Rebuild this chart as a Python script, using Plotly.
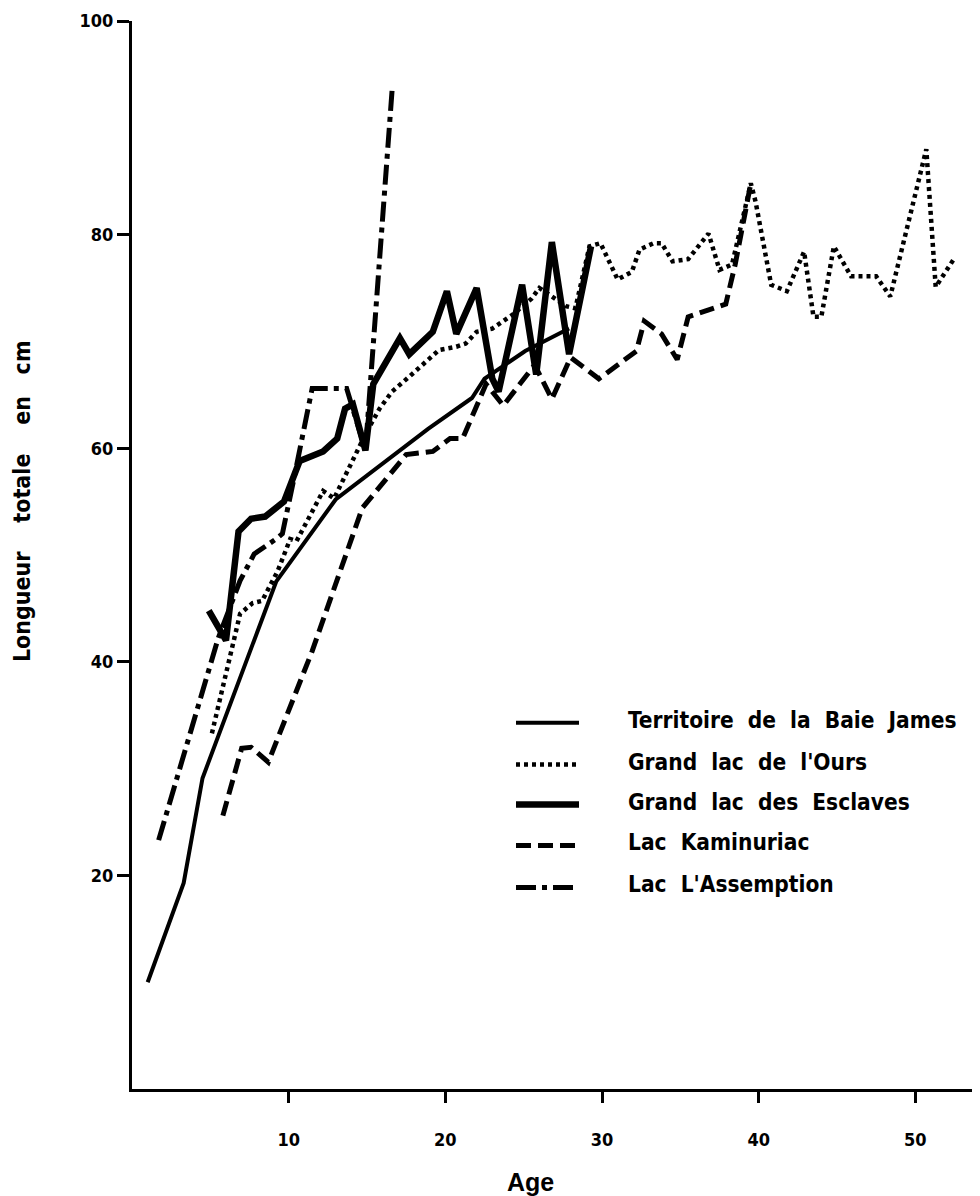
import plotly.graph_objects as go

# ---------------- data ----------------
baie_james_age = [1.0, 3.3, 4.5, 9.2, 13.0, 18.9, 21.7, 22.5, 25.1, 27.9]
baie_james_len = [10.0, 19.3, 29.1, 47.5, 55.2, 61.8, 64.7, 66.5, 69.1, 71.2]

ours_age = [5.1, 6.9, 7.7, 8.3, 9.3, 10.1, 10.5, 12.2, 12.9, 15.0, 15.8, 16.6, 17.7,
            18.8, 19.6, 20.7, 21.3, 22.0, 23.0, 24.3, 25.5, 26.0, 27.7, 28.3, 29.2,
            29.9, 31.0, 31.9, 32.4, 33.3, 33.8, 34.5, 35.5, 36.8, 37.5, 38.3, 39.5,
            39.8, 40.8, 41.8, 42.9, 43.5, 44.0, 44.8, 45.9, 47.5, 48.4, 50.7, 51.3, 52.5]
ours_len = [33.3, 44.5, 45.5, 45.7, 48.5, 51.5, 51.3, 56.0, 55.3, 61.6, 63.7, 65.3, 66.7,
            68.1, 69.2, 69.5, 69.8, 70.9, 71.2, 72.5, 74.0, 75.0, 73.3, 73.1, 78.9,
            79.2, 75.8, 76.5, 78.6, 79.2, 79.2, 77.5, 77.7, 80.1, 76.7, 77.2, 84.8,
            83.1, 75.3, 74.7, 78.4, 72.3, 72.3, 78.9, 76.1, 76.1, 74.2, 88.0, 75.1, 77.8]

esclaves_age = [4.9, 6.0, 6.8, 7.6, 8.5, 9.7, 10.7, 12.2, 13.1, 13.6, 14.1, 14.9, 15.4,
                17.1, 17.7, 19.2, 20.1, 20.7, 22.0, 23.0, 23.4, 24.9, 25.8, 26.8, 27.9, 29.3]
esclaves_len = [44.8, 42.0, 52.2, 53.4, 53.6, 55.0, 58.8, 59.7, 60.9, 63.7, 64.1, 59.8, 66.0,
                70.3, 68.8, 70.9, 74.7, 70.7, 75.0, 66.5, 65.3, 75.3, 66.9, 79.3, 68.8, 78.9]

kaminuriac_age = [5.8, 7.0, 7.6, 8.7, 11.5, 14.7, 17.5, 19.2, 20.3, 21.1, 22.6, 23.7,
                  25.7, 26.8, 28.0, 29.8, 31.1, 32.2, 32.7, 33.8, 34.8, 35.5, 37.9, 38.5, 39.5]
kaminuriac_len = [25.6, 31.9, 32.0, 30.6, 41.0, 54.4, 59.4, 59.7, 60.9, 60.9, 66.0, 64.0,
                  67.8, 64.6, 68.5, 66.5, 67.9, 69.1, 71.9, 70.7, 68.3, 72.3, 73.5, 77.2, 84.8]

assemption_age = [1.7, 5.3, 5.5, 6.9, 7.8, 9.2, 9.6, 10.3, 11.3, 11.5, 13.7, 14.9, 16.6]
assemption_len = [23.3, 41.0, 42.2, 47.6, 50.1, 51.5, 52.0, 56.9, 64.4, 65.6, 65.6, 59.8, 93.5]

series_names = ["Territoire  de  la  Baie  James", "Grand  lac  de  l'Ours",
                "Grand  lac  des  Esclaves", "Lac  Kaminuriac", "Lac  L'Assemption"]

y_ticks = [20, 40, 60, 80, 100]
x_ticks = [10, 20, 30, 40, 50]

# ---------------- styles ----------------
styles = [
    dict(width=4, dash="solid"),
    dict(width=4.5, dash="4px,4px"),
    dict(width=6.5, dash="solid"),
    dict(width=5, dash="15px,7px"),
    dict(width=5, dash="20px,6px,5px,6px"),
]
data = [
    (baie_james_age, baie_james_len),
    (ours_age, ours_len),
    (esclaves_age, esclaves_len),
    (kaminuriac_age, kaminuriac_len),
    (assemption_age, assemption_len),
]

OFF = 8  # default page body margin
W, H = 972, 1188
L, R, T = 124, 2, 11
B = H - (1089 - OFF)
FONT = "DejaVu Sans Condensed"

fig = go.Figure()
for (xs, ys), name, st in zip(data, series_names, styles):
    fig.add_trace(go.Scatter(
        x=xs, y=ys, mode="lines", name=name.replace("  ", "\u00a0\u00a0"),
        line=dict(color="black", width=st["width"], dash=st["dash"]),
        showlegend=False, hoverinfo="skip"))


def px2paper_x(px):
    return (px - OFF - L) / (W - L - R)


def px2paper_y(py):
    return (H - B - (py - OFF)) / (H - T - B)


# manual legend (samples + labels)
legend_rows = [722, 764, 804, 845, 887]
shapes = []
annotations = []
for name, st, row in zip(series_names, styles, legend_rows):
    shapes.append(dict(type="line", xref="paper", yref="paper",
                       x0=px2paper_x(516), x1=px2paper_x(579),
                       y0=px2paper_y(row), y1=px2paper_y(row),
                       line=dict(color="black", width=st["width"], dash=st["dash"])))
    annotations.append(dict(xref="paper", yref="paper", x=px2paper_x(626),
                            y=px2paper_y(row - 3), xanchor="left", yanchor="middle",
                            showarrow=False,
                            text="<b>" + name.replace("  ", "\u00a0\u00a0") + "</b>",
                            font=dict(family=FONT, size=22.5, color="black")))

annotations.append(dict(xref="paper", yref="paper", x=px2paper_x(530),
                        y=px2paper_y(1182), xanchor="center", yanchor="middle",
                        showarrow=False, text="<b>Age</b>",
                        font=dict(family="Liberation Sans", size=25, color="black")))
annotations.append(dict(xref="paper", yref="paper", x=px2paper_x(22),
                        y=px2paper_y(500), xanchor="center", yanchor="middle",
                        showarrow=False, textangle=-90,
                        text="<b>Longueur\u00a0\u00a0\u00a0\u00a0totale\u00a0\u00a0\u00a0\u00a0en\u00a0\u00a0\u00a0cm</b>",
                        font=dict(family=FONT, size=23, color="black")))

fig.update_layout(
    width=W, height=H,
    margin=dict(l=L, r=R, t=T, b=B),
    paper_bgcolor="white", plot_bgcolor="white",
    shapes=shapes, annotations=annotations,
    showlegend=False,
    xaxis=dict(range=[0, 54], showgrid=False, zeroline=False,
               showline=True, linecolor="black", linewidth=3,
               ticks="outside", ticklen=11, tickwidth=2.5, tickcolor="black",
               ticklabelstandoff=21,
               tickvals=x_ticks, ticktext=["<b>%d</b>" % v for v in x_ticks],
               tickfont=dict(family=FONT, size=18, color="black")),
    yaxis=dict(range=[0, 100], showgrid=False, zeroline=False,
               showline=True, linecolor="black", linewidth=3,
               ticks="outside", ticklen=12, tickwidth=2.5, tickcolor="black",
               tickvals=y_ticks, ticktext=["<b>%d</b>" % v for v in y_ticks],
               tickfont=dict(family=FONT, size=18, color="black")),
)

fig.write_html("out.html")
